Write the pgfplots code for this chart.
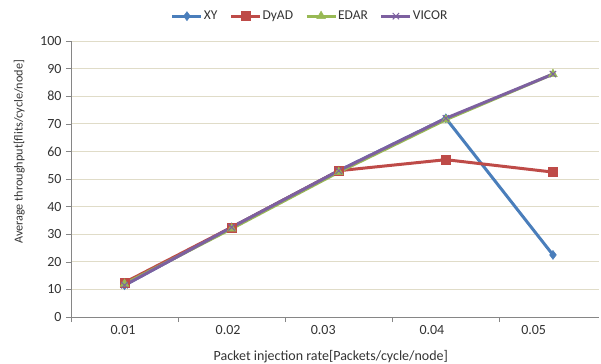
\documentclass[border=0pt]{standalone}
\usepackage{pgfplots}
\pgfplotsset{compat=1.18}
\usepackage{fontspec}
\setmainfont{Carlito}
\definecolor{cXY}{HTML}{4A7EBB}
\definecolor{cDy}{HTML}{BE4B48}
\definecolor{cED}{HTML}{98B954}
\definecolor{cVI}{HTML}{7D60A0}
\definecolor{gridc}{HTML}{E0DCC8}
\definecolor{axc}{HTML}{868686}
\definecolor{txt}{HTML}{333333}
\begin{document}
\begin{tikzpicture}[x=1bp,y=1bp]
\begin{axis}[
  at={(0,0)}, anchor=south west,
  scale only axis, width=528bp, height=276bp,
  xmin=0, xmax=4.93, ymin=0, ymax=100,
  axis lines=left, axis line style={draw=axc,-},
  xtick={0,1,2,3,4}, xticklabels={},
  extra x ticks={0.486,1.467,2.355,3.37,4.32},
  extra x tick labels={0.01,0.02,0.03,0.04,0.05},
  extra x tick style={major tick length=0pt, grid=none},
  ytick={0,10,...,100},
  ymajorgrids, grid style={draw=gridc, line width=0.8pt},
  tick style={draw=axc}, major tick length=5bp,
  tick align=outside,
  ticklabel style={font=\fontsize{14bp}{16bp}\selectfont, text=txt},
  yticklabel style={xshift=-1bp},
  xticklabel style={yshift=-5bp},
  /pgf/number format/assume math mode=true,
  xlabel={Packet injection rate[Packets/cycle/node]},
  ylabel={Average throughput[flits/cycle/node]},
  xlabel style={font=\fontsize{14bp}{16bp}\selectfont, text=txt, at={(axis description cs:0.492,-0.145)}, anchor=center},
  ylabel style={font=\fontsize{12.2bp}{14bp}\selectfont, text=txt, at={(axis description cs:-0.098,0.598)}, anchor=center, rotate=0},
  legend columns=4,
  legend style={at={(axis description cs:0.452,1.09)}, anchor=center, draw=none, fill=none,
    font=\fontsize{13.5bp}{15bp}\selectfont, text=txt,
    nodes={inner xsep=1bp},
    /tikz/every even column/.append style={column sep=11bp}},
  legend image code/.code={\draw[#1] (0bp,0bp) -- (29bp,0bp); \draw[#1, mark repeat=1] plot coordinates {(14.5bp,0bp)};},
  every axis plot/.append style={line width=3bp},
  clip=false,
]
\addplot[cXY, mark=diamond*, mark size=4.5bp, mark options={fill=cXY, line width=0.5bp}]
  coordinates {(0.5,11.5) (1.5,32.5) (2.5,53) (3.5,72) (4.5,22.5)};
\addlegendentry{XY}
\addplot[cDy, mark=square*, mark size=4.5bp, mark options={fill=cDy, line width=0.5bp}]
  coordinates {(0.5,12.5) (1.5,32.5) (2.5,53) (3.5,57) (4.5,52.5)};
\addlegendentry{DyAD}
\addplot[cED, mark=triangle*, mark size=5bp, mark options={fill=cED, line width=0.5bp}]
  coordinates {(0.5,12) (1.5,32) (2.5,52.5) (3.5,71.5) (4.5,88)};
\addlegendentry{EDAR}
\addplot[cVI, mark=x, mark size=4.5bp, mark options={line width=1bp}]
  coordinates {(0.5,11.5) (1.5,32.5) (2.5,53) (3.5,72) (4.5,88)};
\addlegendentry{VICOR}
\end{axis}
\pgfresetboundingbox
\path (-71bp,-47bp) rectangle (530bp,317bp);
\end{tikzpicture}
\end{document}
